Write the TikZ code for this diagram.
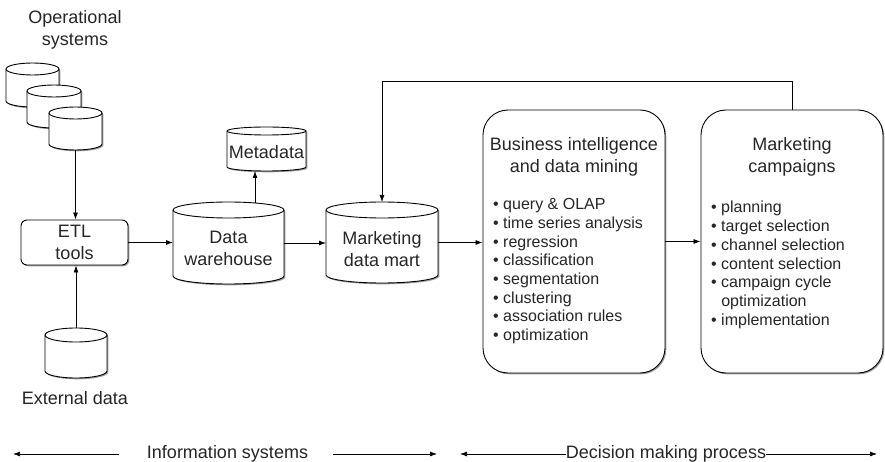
\documentclass[tikz,border=0pt]{standalone}
\usepackage{fontspec}
\setmainfont{Liberation Sans}
\usetikzlibrary{arrows.meta,shadows,fit}

\tikzset{
  shp/.style={draw=black, line width=0.9pt, fill=white,
    drop shadow={shadow xshift=1.3pt, shadow yshift=-1.3pt, fill=black!55, opacity=0.7}},
  arr/.style={draw, line width=0.75pt, -{Latex[length=7pt,width=5pt]}},
  lbl/.style={font=\fontsize{18}{22}\selectfont, align=center, inner sep=0pt, text=black!85},
  item/.style={font=\fontsize{16}{18}\selectfont, anchor=base west, inner sep=0pt, text=black!85},
  frame/.style={inner sep=0pt, outer sep=0pt},
}

% #1 name, #2 left, #3 top, #4 right, #5 bottom, #6 ry  (pixel coordinates, y downward)
\newcommand\dbcyl[6]{%
  \node[frame, fit={(#2,#3) (#4,#5)}] (#1) {};
  \pgfmathsetmacro\cylrx{(#4-#2)/2}%
  \path[shp] (#2,#3+#6) -- (#2,#5-#6)
     arc[start angle=180, end angle=360, x radius=\cylrx pt, y radius=#6 pt]
     -- (#4,#3+#6)
     arc[start angle=0, end angle=180, x radius=\cylrx pt, y radius=#6 pt] -- cycle;
  \draw[line width=0.9pt] (#2,#3+#6)
     arc[start angle=180, end angle=360, x radius=\cylrx pt, y radius=#6 pt];
}

\begin{document}
\begin{tikzpicture}[x=1pt,y=-1pt]
\path[use as bounding box, fill=white] (0,0) rectangle (885,462);

% operational systems
\node[lbl] (opt) at (75,30) {Operational\\systems};
\dbcyl{op1}{6}{63}{59}{107}{6}
\dbcyl{op2}{27}{85}{81}{128}{6}
\dbcyl{op3}{49}{107}{102}{150}{6}

% ETL
\node[shp, rounded corners=6pt, minimum width=107pt, minimum height=45pt,
      font=\fontsize{18}{22}\selectfont, align=center, inner sep=0pt, text=black!85]
      (etl) at (74.5,242.5) {ETL\\tools};

% external data
\dbcyl{ext}{45}{328}{107}{378}{7}
\node[lbl] (extt) at (75,398) {External data};

% data warehouse
\dbcyl{dw}{173}{202}{284}{284}{8}
\node[lbl] (dwt) at (228.5,248) {Data\\warehouse};

% metadata
\dbcyl{meta}{227}{127}{306}{171}{4}
\node[lbl] (metat) at (266.5,152) {Metadata};

% marketing data mart
\dbcyl{mart}{326}{202}{438}{283}{8}
\node[lbl] (martt) at (382,249) {Marketing\\data mart};

% BI box
\node[shp, rounded corners=25pt, minimum width=182pt, minimum height=263pt] (bi) at (574,241.5) {};
\node[lbl] (bih) at (574,157) {Business intelligence\\and data mining};
\foreach \t [count=\i] in {query \& OLAP, time series analysis, regression, classification,
    segmentation, clustering, association rules, optimization}
  \node[item] (bi\i) at (493,{210+(\i-1)*18.6}) {• \t};

% marketing campaigns box
\node[shp, rounded corners=25pt, minimum width=182pt, minimum height=263pt] (mc) at (792,241.5) {};
\node[lbl] (mch) at (792,157) {Marketing\\campaigns};
\foreach \t [count=\i] in {• planning, • target selection, • channel selection, • content selection,
    • campaign cycle, \hphantom{• }optimization, • implementation}
  \node[item] (mc\i) at (711,{213+(\i-1)*18.7}) {\t};

% connectors
\draw[arr] (op3.south) -- (op3.south |- etl.north);
\draw[arr] (ext.north) -- (ext.north |- etl.south);
\draw[arr] (etl.east) -- (etl.east -| dw.west);
\coordinate (dwm) at (255,203);
\draw[arr] (dwm) -- (dwm |- meta.south);
\draw[arr] (dw.east) -- (dw.east -| mart.west);
\draw[arr] (mart.east) -- (mart.east -| bi.west);
\draw[arr] (bi.east) -- (bi.east -| mc.west);
\coordinate (fb) at (382,81);
\draw[arr] (mc.north) |- (fb) -- (mart.north);

% bottom
\node[lbl] (is) at (227.5,454) {Information systems};
\node[lbl] (dm) at (666,454) {Decision making process};
\coordinate (l1) at (13,454);
\coordinate (r1) at (437,454);
\coordinate (l2) at (460,454);
\coordinate (r2) at (877,454);
\draw[arr] ([xshift=-28pt]is.west) -- (l1);
\draw[arr] ([xshift=25pt]is.east) -- (r1);
\draw[arr] (dm.west) -- (l2);
\draw[arr] (dm.east) -- (r2);
\end{tikzpicture}
\end{document}
